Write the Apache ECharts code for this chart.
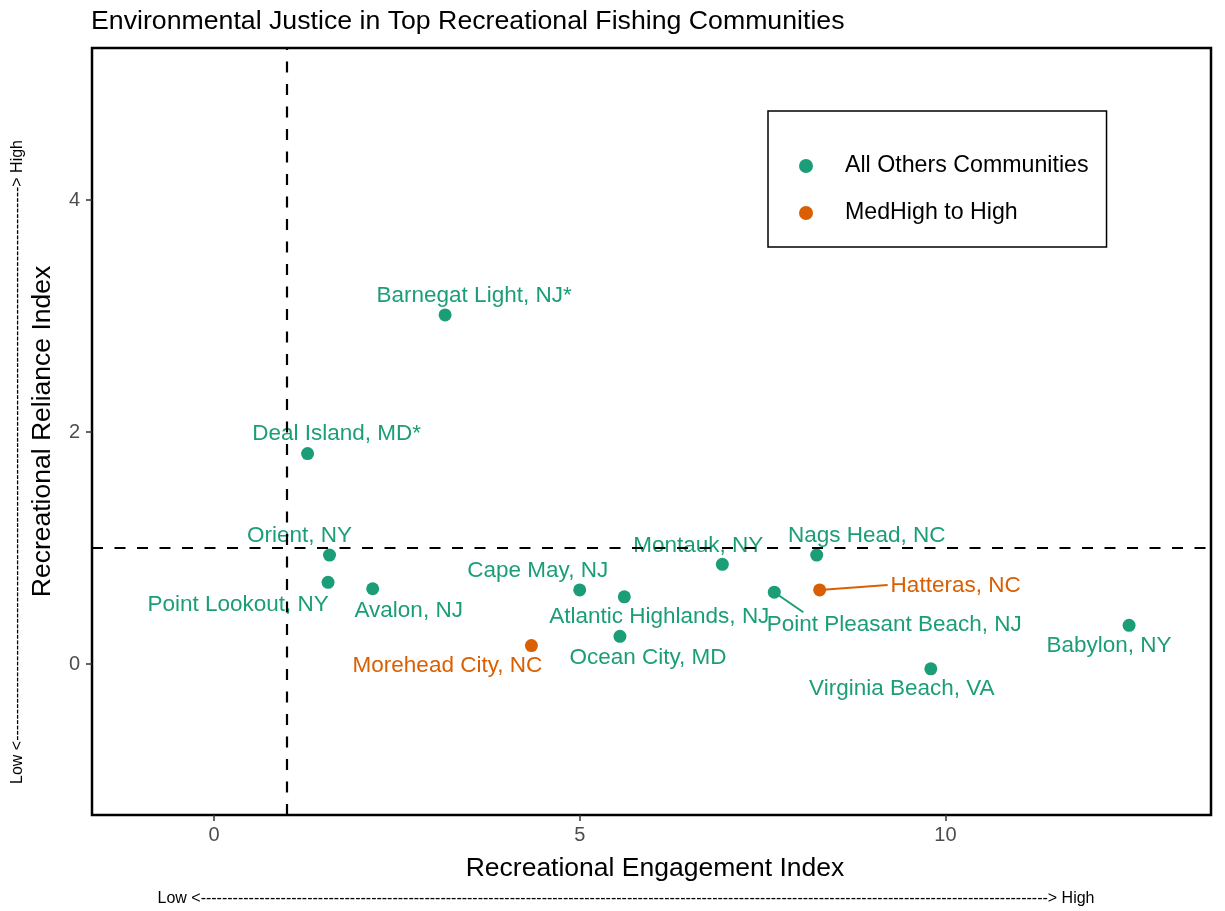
<!DOCTYPE html>
<html><head><meta charset="utf-8">
<script src="https://cdn.jsdelivr.net/npm/echarts@6/dist/echarts.min.js"></script>
<style>html,body{margin:0;padding:0;background:#fff}#c{width:1225px;height:911px}</style>
</head><body><div id="c"></div>
<script>
// ---- data ----
const communities = ['Barnegat Light, NJ*','Deal Island, MD*','Orient, NY','Point Lookout, NY','Avalon, NJ','Cape May, NJ','Atlantic Highlands, NJ','Ocean City, MD','Morehead City, NC','Montauk, NY','Nags Head, NC','Point Pleasant Beach, NJ','Hatteras, NC','Virginia Beach, VA','Babylon, NY'];
const engagementIndex = [3.16, 1.28, 1.58, 1.56, 2.17, 5.00, 5.61, 5.55, 4.34, 6.95, 8.24, 7.66, 8.28, 9.80, 12.51];
const relianceIndex   = [3.01, 1.815, 0.94, 0.705, 0.65, 0.64, 0.58, 0.24, 0.16, 0.86, 0.94, 0.62, 0.64, -0.04, 0.335];
const ejGroup = ['All Others Communities','All Others Communities','All Others Communities','All Others Communities','All Others Communities','All Others Communities','All Others Communities','All Others Communities','MedHigh to High','All Others Communities','All Others Communities','All Others Communities','MedHigh to High','All Others Communities','All Others Communities'];
const groupNames = ['All Others Communities','MedHigh to High'];
const xTickValues = [0, 5, 10];
const yTickValues = [0, 2, 4];
const xThreshold = 1;
const yThreshold = 1;
const chartTitle = 'Environmental Justice in Top Recreational Fishing Communities';
const xTitle = 'Recreational Engagement Index';
const yTitle = 'Recreational Reliance Index';

// ---- layout (label placement in pixels, like ggrepel) ----
const labelShift = {
  'Barnegat Light, NJ*': [29, -19],
  'Deal Island, MD*': [29, -20],
  'Orient, NY': [-30, -19],
  'Point Lookout, NY': [-90, 22],
  'Avalon, NJ': [36, 22],
  'Cape May, NJ': [-42, -19],
  'Atlantic Highlands, NJ': [35, 20],
  'Ocean City, MD': [28, 21],
  'Morehead City, NC': [-84, 20],
  'Montauk, NY': [-24, -19],
  'Nags Head, NC': [50, -19],
  'Point Pleasant Beach, NJ': [120, 33],
  'Hatteras, NC': [136, -4],
  'Virginia Beach, VA': [-29, 20],
  'Babylon, NY': [-20, 21]
};
// leader line end, relative to point centre (pixels)
const leaderEnd = {
  'Point Pleasant Beach, NJ': [29, 20],
  'Hatteras, NC': [68, -5]
};
const colors = {'All Others Communities': '#1B9E77', 'MedHigh to High': '#D95F02'};
const FONT = '"Liberation Sans", Arial, Helvetica, sans-serif';

const seriesData = groupNames.map(g => {
  const arr = [];
  communities.forEach((n, i) => {
    if (ejGroup[i] === g) arr.push({name: n, value: [engagementIndex[i], relianceIndex[i]]});
  });
  return arr;
});

const leaderData = [];
communities.forEach((n, i) => {
  if (leaderEnd[n]) leaderData.push({name: n, value: [engagementIndex[i], relianceIndex[i]], group: ejGroup[i]});
});

const series = groupNames.map((g, si) => ({
  name: g,
  type: 'scatter',
  symbol: 'circle',
  symbolSize: 13,
  itemStyle: {color: colors[g], opacity: 1},
  data: seriesData[si],
  label: {
    show: true, formatter: '{b}', position: 'inside', align: 'center', verticalAlign: 'middle',
    color: colors[g], fontSize: 22.5, fontFamily: FONT
  },
  labelLayout: function (p) {
    const name = seriesData[p.seriesIndex][p.dataIndex].name;
    const s = labelShift[name] || [0, 0];
    return {dx: s[0], dy: s[1]};
  },
  emphasis: {disabled: true},
  z: 3,
  markLine: si === 0 ? {
    silent: true, symbol: 'none', label: {show: false},
    lineStyle: {color: '#000', width: 2.2, type: [11, 11.5]},
    data: [{xAxis: xThreshold}, {yAxis: yThreshold}]
  } : undefined
}));

series.push({
  type: 'custom',
  name: 'leaders',
  z: 2,
  silent: true,
  data: leaderData.map(d => d.value),
  renderItem: function (params, api) {
    const d = leaderData[params.dataIndex];
    const p = api.coord([api.value(0), api.value(1)]);
    const e = leaderEnd[d.name];
    return {
      type: 'line',
      shape: {x1: p[0], y1: p[1], x2: p[0] + e[0], y2: p[1] + e[1]},
      style: {stroke: colors[d.group], lineWidth: 2}
    };
  }
});

const dashesB = '-'.repeat(159);
const dashesL = '-'.repeat(104);

const chart = echarts.init(document.getElementById('c'), null, {renderer: 'canvas'});
chart.setOption({
  animation: false,
  backgroundColor: '#fff',
  textStyle: {fontFamily: FONT},
  title: {text: chartTitle, left: 86, top: 3, textStyle: {fontSize: 26.7, fontWeight: 'normal', color: '#000', fontFamily: FONT}},
  grid: {left: 92, right: 14, top: 48, bottom: 96, show: true, borderColor: '#000', borderWidth: 2.5, backgroundColor: '#fff'},
  legend: {
    orient: 'vertical', left: 768, top: 111, padding: [43, 18, 22, 31], itemGap: 23,
    itemWidth: 14, itemHeight: 14, icon: 'circle', borderColor: '#000', borderWidth: 1.5, backgroundColor: '#fff',
    data: groupNames,
    textStyle: {fontSize: 23.2, lineHeight: 24, color: '#000', fontFamily: FONT, padding: [0, 0, 0, 27]}
  },
  xAxis: {
    type: 'value', min: -1.667, max: 13.63,
    name: xTitle, nameLocation: 'middle', nameGap: 40,
    nameTextStyle: {fontSize: 26.5, color: '#000', fontFamily: FONT, padding: [0, 0, 0, 7]},
    axisLine: {show: false, onZero: false},
    axisTick: {show: true, customValues: xTickValues, length: 6, lineStyle: {color: '#333', width: 1.5}},
    axisLabel: {customValues: xTickValues, color: '#4d4d4d', fontSize: 20, margin: 10, fontFamily: FONT},
    splitLine: {show: false}
  },
  yAxis: {
    type: 'value', min: -1.30, max: 5.31,
    name: yTitle, nameLocation: 'middle', nameGap: 36, nameRotate: 90,
    nameTextStyle: {fontSize: 26.5, color: '#000', fontFamily: FONT},
    axisLine: {show: false, onZero: false},
    axisTick: {show: true, customValues: yTickValues, length: 6, lineStyle: {color: '#333', width: 1.5}},
    axisLabel: {customValues: yTickValues, color: '#4d4d4d', fontSize: 20, margin: 12, fontFamily: FONT},
    splitLine: {show: false}
  },
  graphic: [
    {type: 'text', x: 626, y: 899, z: 10, style: {text: 'Low <' + dashesB + '> High', align: 'center', verticalAlign: 'middle', fontSize: 16, fill: '#000', fontFamily: FONT}},
    {type: 'text', x: 18, y: 462, rotation: Math.PI / 2, z: 10, style: {text: 'Low <' + dashesL + '> High', align: 'center', verticalAlign: 'middle', fontSize: 16, fill: '#000', fontFamily: FONT}}
  ],
  series: series
});
</script></body></html>
